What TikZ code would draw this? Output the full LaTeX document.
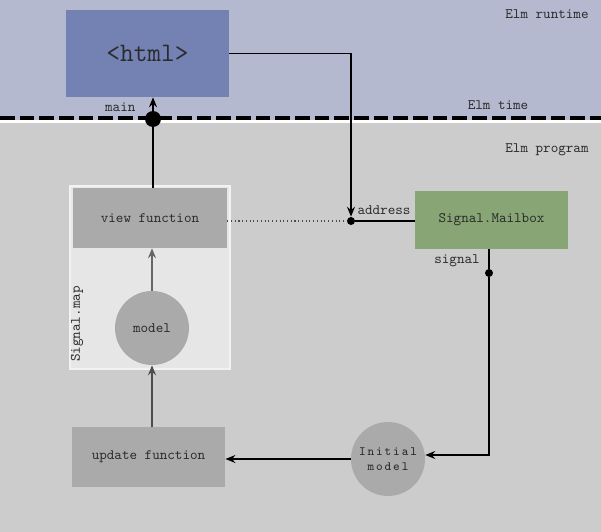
\documentclass[tikz,border=0pt]{standalone}
\usepackage{fontspec}
\usetikzlibrary{arrows.meta, positioning}

\definecolor{runtimebg}{HTML}{B4B9CF}
\definecolor{programbg}{HTML}{CCCCCC}
\definecolor{htmlblue}{HTML}{7381B3}
\definecolor{mapbg}{HTML}{E6E6E6}
\definecolor{boxgray}{HTML}{AAAAAA}
\definecolor{mailgreen}{HTML}{88A675}
\definecolor{txtgray}{HTML}{2B2B2B}

\newfontfamily\initfont[LetterSpace=15]{Latin Modern Mono}

\begin{document}
\begin{tikzpicture}[x=0.75pt, y=-0.75pt,
    font=\ttfamily\fontsize{10.8}{12}\selectfont, text=txtgray,
    fn/.style={fill=boxgray, minimum width=115pt, minimum height=44.5pt},
    blob/.style={circle, fill=boxgray, minimum size=55.5pt, inner sep=0pt},
    dot/.style={circle, fill=black, inner sep=0pt, minimum size=#1},
    lbl/.style={inner sep=1pt},
    flow/.style={-{Stealth[length=7.5pt, width=6pt, inset=2.5pt]}, line width=0.9pt}]

    \useasboundingbox (0,0) rectangle (601,532);

    % the two layers: runtime above, program below
    \fill[runtimebg] (0,0) rectangle (601,120);
    \fill[white] (0,120) rectangle (601,123);
    \fill[programbg] (0,123) rectangle (601,532);
    % the border between them
    \draw[line width=2.6pt, dash pattern=on 11pt off 3.75pt] (0,118) -- (601,118);

    \node[lbl] (runtime) at (547,14) {Elm runtime};
    \node[lbl] (time) at (498,105) {Elm time};
    \node[lbl] (program) at (547,150) {Elm program};

    % the page
    \node[fill=htmlblue, minimum width=122.25pt, minimum height=65.25pt,
          font=\ttfamily\fontsize{20}{22}\selectfont] (html) at (147.5,53.5) {<html>};

    % Signal.map container
    \fill[mapbg, draw=white!50!mapbg, line width=1.2pt] (70,186) rectangle (230,369);
    \node[lbl, rotate=90] (sigmap) at (77,324) {Signal.map};

    \node[fn, minimum width=115.5pt, minimum height=45pt] (view) at (150,218) {view function};
    \node[blob] (model) at (152,328) {model};
    \node[fn] (update) at (148.5,457) {update function};
    \node[blob, font=\initfont\fontsize{9.5}{11}\selectfont, align=center]
        (init) at (388,459) {Initial\\model};
    \node[fill=mailgreen, minimum width=114.75pt, minimum height=43.5pt] (mailbox) at (491.5,220) {Signal.Mailbox};

    % the dots
    \node[dot=12pt] (maindot) at (153,119) {};
    \node[dot=6pt] (addrdot) at (351,221) {};
    \node[dot=6pt] (sigdot) at (489,273) {};

    \node[lbl, anchor=east] (mainlbl) at (137,107) {main};
    \node[lbl] (addrlbl) at (384,210) {address};
    \node[lbl] (siglbl) at (457,261) {signal};

    % connectors
    \draw[flow] (maindot) -- (maindot |- html.south);
    \draw[line width=0.9pt] (maindot |- view.north) -- (maindot);
    \draw[flow, black!60] (model) -- (model |- view.south);
    \draw[flow, black!70] (model |- update.north) -- (model);
    \draw[flow] (init) -- (update.east |- init);
    \draw[flow] (html.east) -| (addrdot);
    \draw[line width=0.9pt] (addrdot) -- (mailbox.west |- addrdot);
    \draw[dotted, black!70, line width=0.8pt] (view.east |- addrdot) -- (addrdot);
    \draw[line width=0.9pt] (sigdot |- mailbox.south) -- (sigdot);
    \draw[flow] (sigdot) |- ([yshift=3pt]init.east);

\end{tikzpicture}
\end{document}
